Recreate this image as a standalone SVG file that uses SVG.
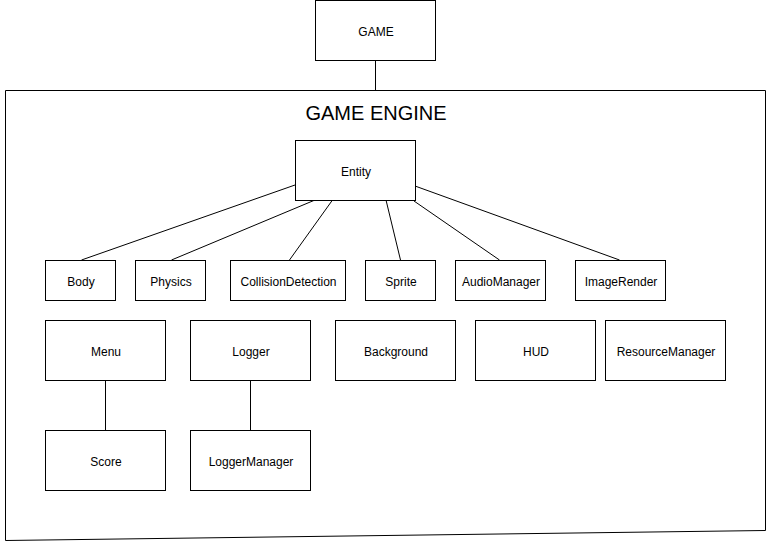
<svg xmlns="http://www.w3.org/2000/svg" width="767" height="542" viewBox="0 0 767 542">
<style>
.box{fill:#fff;stroke:#000;stroke-width:1}
.t{font-family:"Liberation Sans",Arial,sans-serif;font-size:12px;fill:#000;text-anchor:middle;dominant-baseline:central}
.title{font-family:"Liberation Sans",Arial,sans-serif;font-size:20px;fill:#000;text-anchor:middle;dominant-baseline:central}
.c{stroke:#000;stroke-width:1;fill:none}
</style>
<rect width="767" height="542" fill="#fff"/>
<g id="game-engine">
<path class="c" d="M5.5,90.5 L765.5,90.5 L765.5,530.5 L5.5,540.5 Z" stroke-width="1.5"/>
<text class="title" x="376" y="113">GAME ENGINE</text>
</g>
<g id="connectors">
<line class="c" x1="375.5" y1="60" x2="375.5" y2="90"/>
<line class="c" x1="295" y1="185" x2="81.5" y2="260"/>
<line class="c" x1="315" y1="200" x2="171.5" y2="260"/>
<line class="c" x1="332.5" y1="200" x2="289.5" y2="260"/>
<line class="c" x1="386" y1="200" x2="400.5" y2="260"/>
<line class="c" x1="414" y1="201" x2="499.5" y2="260"/>
<line class="c" x1="415" y1="186" x2="619.5" y2="260"/>
<line class="c" x1="105.5" y1="380" x2="105.5" y2="430"/>
<line class="c" x1="250.5" y1="380" x2="250.5" y2="430"/>
</g>
<g id="game"><rect class="box" x="315.5" y="0.5" width="120" height="60"/><text class="t" x="376" y="32">GAME</text></g>
<g id="entity"><rect class="box" x="295.5" y="140.5" width="120" height="60"/><text class="t" x="356" y="172">Entity</text></g>
<g id="body"><rect class="box" x="45.5" y="260.5" width="70" height="40"/><text class="t" x="81" y="282">Body</text></g>
<g id="physics"><rect class="box" x="135.5" y="260.5" width="70" height="40"/><text class="t" x="171" y="282">Physics</text></g>
<g id="collision"><rect class="box" x="230.5" y="260.5" width="115" height="40"/><text class="t" x="288.5" y="282">CollisionDetection</text></g>
<g id="sprite"><rect class="box" x="365.5" y="260.5" width="70" height="40"/><text class="t" x="401" y="282">Sprite</text></g>
<g id="audio"><rect class="box" x="455.5" y="260.5" width="90" height="40"/><text class="t" x="501" y="282">AudioManager</text></g>
<g id="imagerender"><rect class="box" x="575.5" y="260.5" width="90" height="40"/><text class="t" x="621" y="282">ImageRender</text></g>
<g id="menu"><rect class="box" x="45.5" y="320.5" width="120" height="60"/><text class="t" x="106" y="352">Menu</text></g>
<g id="logger"><rect class="box" x="190.5" y="320.5" width="120" height="60"/><text class="t" x="251" y="352">Logger</text></g>
<g id="background"><rect class="box" x="335.5" y="320.5" width="120" height="60"/><text class="t" x="396" y="352">Background</text></g>
<g id="hud"><rect class="box" x="475.5" y="320.5" width="120" height="60"/><text class="t" x="536" y="352">HUD</text></g>
<g id="resourcemanager"><rect class="box" x="605.5" y="320.5" width="120" height="60"/><text class="t" x="666" y="352">ResourceManager</text></g>
<g id="score"><rect class="box" x="45.5" y="430.5" width="120" height="60"/><text class="t" x="106" y="462">Score</text></g>
<g id="loggermanager"><rect class="box" x="190.5" y="430.5" width="120" height="60"/><text class="t" x="251" y="462">LoggerManager</text></g>
</svg>
